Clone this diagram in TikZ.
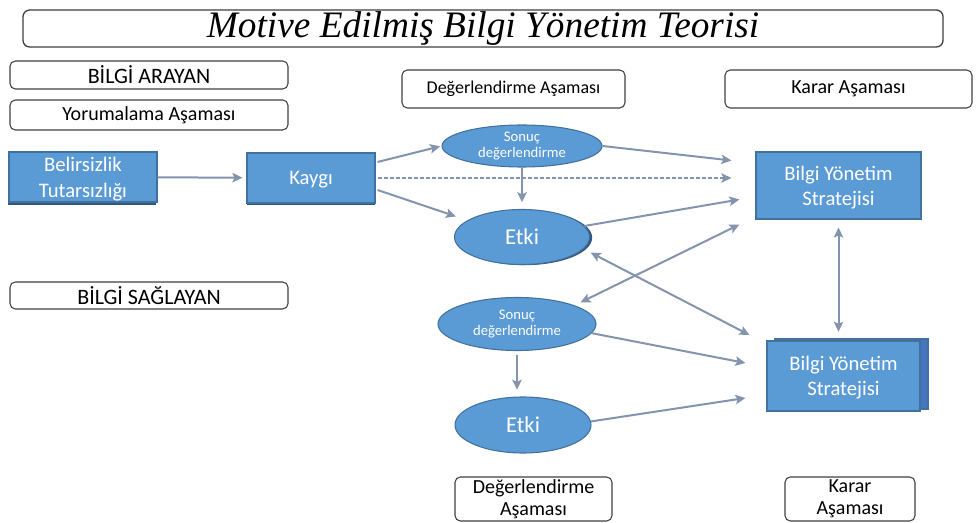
\documentclass[tikz,border=0pt]{standalone}
\usepackage{fontspec}
\setmainfont{Carlito}
\newfontfamily\titlefont{Liberation Serif}
\usepackage{tikz}
\usetikzlibrary{positioning, arrows.meta, calc, shapes.geometric, shadows}
\definecolor{boxblue}{RGB}{91,155,213}
\definecolor{boxedge}{RGB}{65,113,156}
\definecolor{boxdark}{RGB}{50,88,128}
\definecolor{backblue}{RGB}{72,118,190}
\definecolor{linegray}{RGB}{131,148,172}

\begin{document}
\begin{tikzpicture}[x=0.75pt, y=-0.75pt, >={Stealth[length=7.5pt, width=7pt, inset=1.5pt]},
  labelbox/.style={draw=black!75, line width=0.8pt, rounded corners=4pt, fill=white, inner sep=0pt, align=center, font=\fontsize{15}{17}\selectfont},
  bluebox/.style={draw=boxedge, line width=0.8pt, fill=boxblue, text=white, inner sep=0pt, text depth=0pt, align=center, font=\fontsize{15.5}{18.5}\selectfont},
  blueoval/.style={ellipse, draw=boxedge, line width=0.8pt, fill=boxblue, text=white, inner sep=0pt, align=center},
  flow/.style={->, linegray, line width=1.5pt},
  twoway/.style={<->, linegray, line width=1.5pt}]
\useasboundingbox (0,0) rectangle (977,523);
% title
\node[labelbox, line width=1pt, rounded corners=5pt, minimum width=690pt, minimum height=27.75pt, font=\titlefont\itshape\fontsize{28}{30}\selectfont] (baslik) at (483,28.5) {Motive Edilmiş Bilgi Yönetim Teorisi};
% left column labels
\node[labelbox, minimum width=208.5pt, minimum height=21pt, font=\fontsize{16.5}{18}\selectfont] (arayan) at (149,75) {BİLGİ ARAYAN};
\node[labelbox, minimum width=208.5pt, minimum height=22.5pt] (yorum) at (149,115) {Yorumalama Aşaması};
\node[labelbox, minimum width=208.5pt, minimum height=20.25pt, font=\fontsize{16.5}{18}\selectfont] (saglayan) at (149,295.5) {BİLGİ SAĞLAYAN};
% stage labels
\node[labelbox, minimum width=167.25pt, minimum height=28.5pt, font=\fontsize{13.5}{16}\selectfont] (degerUst) at (513.5,89) {Değerlendirme Aşaması};
\node[labelbox, minimum width=185.25pt, minimum height=28.5pt] (kararUst) at (848.5,89) {Karar Aşaması};
\node[labelbox, minimum width=117.75pt, minimum height=33pt, font=\fontsize{15}{16.5}\selectfont] (degerAlt) at (533.5,499) {Değerlendirme\\Aşaması};
\node[labelbox, minimum width=97.5pt, minimum height=33pt, font=\fontsize{15}{16.5}\selectfont] (kararAlt) at (850,499) {Karar\\Aşaması};
% seeker side
\node[bluebox, minimum width=111pt, minimum height=37.5pt, copy shadow={shadow xshift=-1pt, shadow yshift=-2.5pt, fill=boxdark, draw=none}] (belirsiz) at (83,177) {Belirsizlik\\[1pt]Tutarsızlığı};
\node[bluebox, minimum width=96pt, minimum height=37.5pt, copy shadow={shadow xshift=0pt, shadow yshift=-1.5pt, fill=boxdark, draw=none}] (kaygi) at (311,178) {Kaygı};
\node[blueoval, minimum width=120pt, minimum height=31.5pt, font=\fontsize{11}{11.5}\selectfont] (sonucA) at (522,146) {Sonuç\\değerlendirme};
\node[blueoval, minimum width=101.25pt, minimum height=41.25pt, font=\fontsize{17}{19}\selectfont, copy shadow={shadow xshift=2pt, shadow yshift=-0.5pt, fill=boxdark, draw=none}] (etkiA) at (522,237) {Etki};
\node[bluebox, minimum width=123.75pt, minimum height=50.25pt] (bilgiA) at (838.5,185.5) {Bilgi Yönetim\\Stratejisi};
% provider side
\node[blueoval, minimum width=118.5pt, minimum height=39.75pt, font=\fontsize{11}{11.5}\selectfont] (sonucB) at (517,324) {Sonuç\\değerlendirme};
\node[blueoval, minimum width=102pt, minimum height=42pt, font=\fontsize{17}{19}\selectfont] (etkiB) at (523,425) {Etki};
\node[bluebox, minimum width=114.75pt, minimum height=52.5pt, copy shadow={shadow xshift=6pt, shadow yshift=1.5pt, fill=backblue, draw=boxedge}] (bilgiB) at (843.5,376) {Bilgi Yönetim\\Stratejisi};
% connectors
\draw[flow, shorten >=3pt] (belirsiz) -- (kaygi);
\draw[flow, shorten >=1pt] ($(kaygi.east)+(2,-16)$) -- (sonucA.west);
\draw[flow, dashed, dash pattern=on 3pt off 1.5pt, shorten >=18pt, shorten <=1.5pt] (kaygi.east) -- (kaygi.east -| bilgiA.west);
\draw[flow, shorten >=9pt] ($(kaygi.east)+(2,12)$) -- (etkiA.163);
\draw[flow] (sonucA.east) -- ($(bilgiA.west)+(-24,-25)$);
\draw[flow, shorten >=5pt] (sonucA.south) -- (etkiA.north);
\draw[flow] (etkiA.10) -- ($(bilgiA.west)+(-16,14)$);
\draw[twoway, shorten >=5pt] ($(bilgiA.west)+(-16,39)$) -- (sonucB.18);
\draw[twoway, shorten <=6pt] (etkiA.-11) -- ($(bilgiB.west)+(-17,-41)$);
\draw[twoway, shorten <=6pt, shorten >=6.5pt] (bilgiA.south) -- (bilgiA.south |- bilgiB.north);
\draw[flow] (sonucB.-7) -- ($(bilgiB.west)+(-21,-13)$);
\draw[flow, shorten <=3pt, shorten >=5pt] (sonucB.south) -- (sonucB.south |- etkiB.north);
\draw[flow] (etkiB.3) -- ($(bilgiB.west)+(-21,22)$);
\end{tikzpicture}
\end{document}
